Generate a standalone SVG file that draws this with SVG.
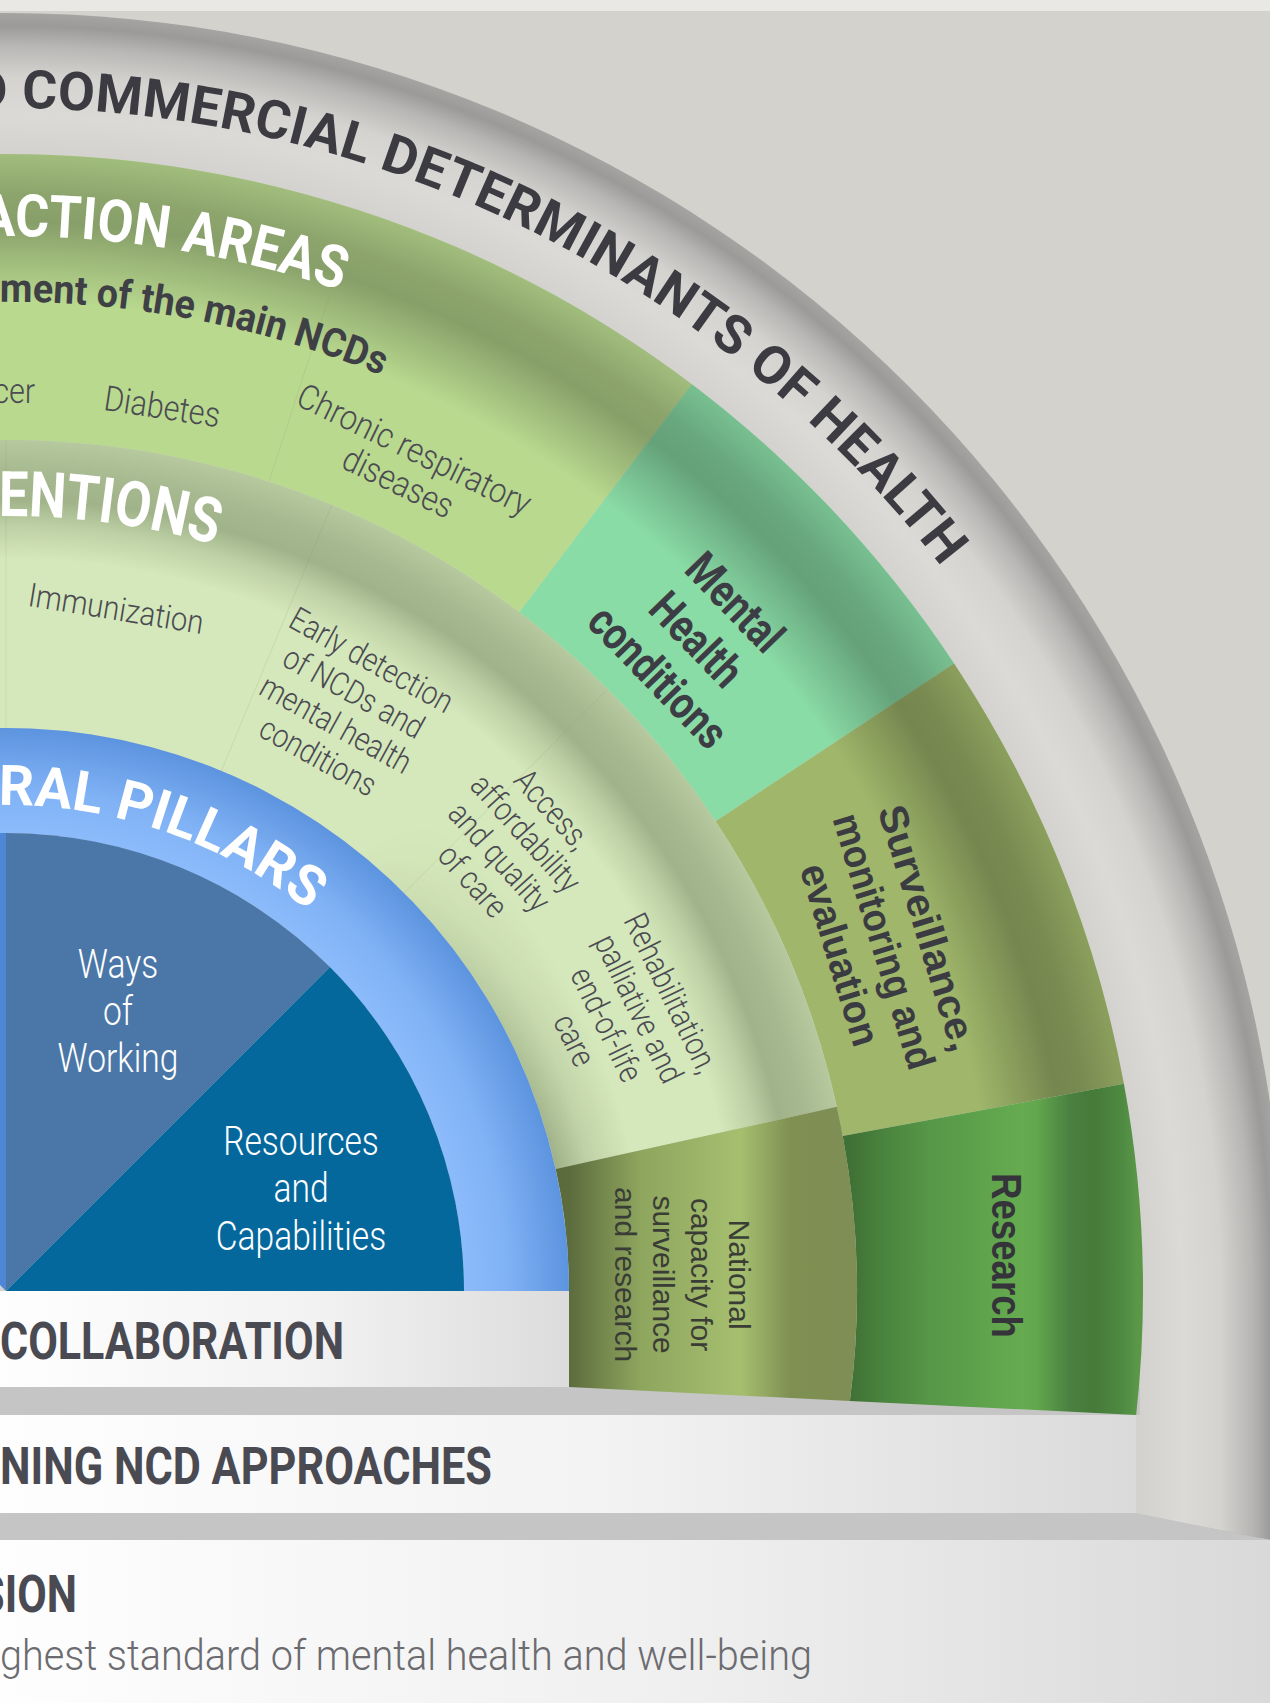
<svg xmlns="http://www.w3.org/2000/svg" width="1270" height="1703" viewBox="0 0 1270 1703">
<defs>
<style>
.hd{font-family:Roboto,"Liberation Sans",sans-serif;font-weight:700}
.lt{font-family:Roboto,"Liberation Sans",sans-serif;font-weight:300;fill:#4b4b52}
.ar{font-family:"Liberation Sans",Arial,sans-serif}
.dark{fill:#3b3b41}
.wh{fill:#ffffff}
.div{stroke-width:1;fill:none;stroke:#7f9262;stroke-opacity:0.16}
</style>
<radialGradient id="gRing" gradientUnits="userSpaceOnUse" cx="6" cy="1291" r="1278">
<stop offset="0.8897" stop-color="#d3d2ce"/>
<stop offset="0.92" stop-color="#dbdad7"/>
<stop offset="0.95" stop-color="#d4d3d0"/>
<stop offset="0.975" stop-color="#b8b6b4"/>
<stop offset="0.99" stop-color="#9c9a98"/>
<stop offset="1" stop-color="#a6a4a2"/>
</radialGradient>
<linearGradient id="gRingX" gradientUnits="userSpaceOnUse" x1="6" y1="0" x2="1284" y2="0">
<stop offset="0.8897" stop-color="#d3d2ce"/>
<stop offset="0.92" stop-color="#dbdad7"/>
<stop offset="0.95" stop-color="#d4d3d0"/>
<stop offset="0.975" stop-color="#b8b6b4"/>
<stop offset="0.99" stop-color="#9c9a98"/>
<stop offset="1" stop-color="#a6a4a2"/>
</linearGradient>
<radialGradient id="gActShade" gradientUnits="userSpaceOnUse" cx="6" cy="1291" r="1137">
<stop offset="0.748" stop-color="#000" stop-opacity="0"/>
<stop offset="0.87" stop-color="#000" stop-opacity="0"/>
<stop offset="0.915" stop-color="#000" stop-opacity="0.17"/>
<stop offset="0.94" stop-color="#000" stop-opacity="0.27"/>
<stop offset="0.965" stop-color="#000" stop-opacity="0.24"/>
<stop offset="1" stop-color="#000" stop-opacity="0.13"/>
</radialGradient>
<radialGradient id="gIntShade" gradientUnits="userSpaceOnUse" cx="6" cy="1291" r="851">
<stop offset="0.86" stop-color="#213010" stop-opacity="0"/>
<stop offset="0.90" stop-color="#213010" stop-opacity="0.13"/>
<stop offset="0.93" stop-color="#213010" stop-opacity="0.29"/>
<stop offset="0.96" stop-color="#213010" stop-opacity="0.26"/>
<stop offset="1" stop-color="#213010" stop-opacity="0.17"/>
</radialGradient>
<radialGradient id="gIntInner" gradientUnits="userSpaceOnUse" cx="6" cy="1291" r="640">
<stop offset="0.879" stop-color="#213010" stop-opacity="0.3"/>
<stop offset="0.93" stop-color="#213010" stop-opacity="0.12"/>
<stop offset="1" stop-color="#213010" stop-opacity="0"/>
</radialGradient>
<linearGradient id="gMaskLin" gradientUnits="userSpaceOnUse" x1="392" y1="831" x2="586" y2="1136">
<stop offset="0" stop-color="#000"/>
<stop offset="1" stop-color="#fff"/>
</linearGradient>
<mask id="mInner" maskUnits="userSpaceOnUse" x="-200" y="500" width="1000" height="800">
<rect x="-200" y="500" width="1000" height="800" fill="url(#gMaskLin)"/>
</mask>
<radialGradient id="gBlue" gradientUnits="userSpaceOnUse" cx="6" cy="1291" r="563">
<stop offset="0.8135" stop-color="#8cbbfb"/>
<stop offset="0.89" stop-color="#80b2f5"/>
<stop offset="1" stop-color="#5d94df"/>
</radialGradient>
<linearGradient id="gResearch" gradientUnits="userSpaceOnUse" x1="849" y1="0" x2="1137" y2="0">
<stop offset="0" stop-color="#3f7035"/>
<stop offset="0.118" stop-color="#4a833d"/>
<stop offset="0.27" stop-color="#559647"/>
<stop offset="0.434" stop-color="#5da14b"/>
<stop offset="0.6" stop-color="#66ab50"/>
<stop offset="0.653" stop-color="#62a64d"/>
<stop offset="0.767" stop-color="#4a8040"/>
<stop offset="0.85" stop-color="#467a3a"/>
<stop offset="0.95" stop-color="#4f8a42"/>
<stop offset="1" stop-color="#5a9848"/>
</linearGradient>
<linearGradient id="gNational" gradientUnits="userSpaceOnUse" x1="555" y1="0" x2="852" y2="0">
<stop offset="0" stop-color="#5a6a3b"/>
<stop offset="0.05" stop-color="#5c6c3d"/>
<stop offset="0.286" stop-color="#8ea55e"/>
<stop offset="0.623" stop-color="#a6bf6f"/>
<stop offset="0.791" stop-color="#7f9052"/>
<stop offset="1" stop-color="#7e8e55"/>
</linearGradient>
<linearGradient id="gCollab" gradientUnits="userSpaceOnUse" x1="0" y1="0" x2="569" y2="0">
<stop offset="0" stop-color="#fefefe"/>
<stop offset="0.55" stop-color="#f2f2f2"/>
<stop offset="1" stop-color="#dcdcdc"/>
</linearGradient>
<linearGradient id="gStrength" gradientUnits="userSpaceOnUse" x1="0" y1="0" x2="1136" y2="0">
<stop offset="0" stop-color="#fefefe"/>
<stop offset="0.55" stop-color="#f2f2f2"/>
<stop offset="1" stop-color="#dadada"/>
</linearGradient>
<linearGradient id="gVision" gradientUnits="userSpaceOnUse" x1="0" y1="0" x2="1270" y2="0">
<stop offset="0" stop-color="#fefefe"/>
<stop offset="0.55" stop-color="#efefef"/>
<stop offset="1" stop-color="#d9d9d9"/>
</linearGradient>
<path id="arc1183" d="M -199.43 125.97 A 1183 1183 0 0 1 1171.03 1496.43"/>
<path id="arc1055" d="M -177.20 252.03 A 1055 1055 0 0 1 1044.97 1474.20"/>
<path id="arc988" d="M -165.57 317.01 A 988 988 0 0 1 979.99 1462.57"/>
<path id="arc775" d="M -128.58 527.77 A 775 775 0 0 1 769.23 1425.58"/>
<path id="arc486" d="M -78.39 812.38 A 486 486 0 0 1 484.62 1375.39"/>
</defs>

<g id="background">
<rect x="0" y="0" width="1270" height="1703" fill="#d3d2cd"/>
<rect x="0" y="0" width="1270" height="11" fill="#e9e8e4"/>
</g>

<g id="ring-determinants">
<circle cx="6" cy="1291" r="1278" fill="url(#gRing)"/>
<polygon points="1100,1291 1290,1291 1290,1545 1270,1540 1136,1513 1100,1513" fill="url(#gRingX)"/>
<text class="hd dark" font-size="53.5" letter-spacing="0.35"><textPath href="#arc1183" startOffset="173.5">D COMMERCIAL DETERMINANTS OF HEALTH</textPath></text>
</g>

<g id="strip-1">
<rect x="0" y="1387" width="1140" height="28" fill="#c5c5c5"/>
</g>

<g id="action-areas">
<path id="seg-ncds" d="M -191.4 171.3 A 1137 1137 0 0 1 691.9 384.2 L 519.3 612.3 A 851 851 0 0 0 -141.8 452.9 Z" fill="#b9d98f"/>
<path id="seg-mental" d="M 691.9 384.2 A 1137 1137 0 0 1 954.1 663.4 L 715.6 821.3 A 851 851 0 0 0 519.3 612.3 Z" fill="#8adca6"/>
<path id="seg-surveillance" d="M 954.1 663.4 A 1137 1137 0 0 1 1123.9 1083.8 L 842.7 1135.9 A 851 851 0 0 0 715.6 821.3 Z" fill="#a0b76b"/>
<path d="M -191.4 171.3 A 1137 1137 0 0 1 1123.9 1083.8 L 842.7 1135.9 A 851 851 0 0 0 -141.8 452.9 Z" fill="url(#gActShade)"/>
<path id="seg-research" d="M 1123.9 1083.8 A 1137 1137 0 0 1 1136.2 1415 L 849.9 1401 A 851 851 0 0 0 842.7 1135.9 Z" fill="url(#gResearch)"/>
<line class="div" x1="269.0" y1="481.7" x2="330.0" y2="294.0"/>
<text class="hd wh" font-size="59"><textPath href="#arc1055" startOffset="158.4" textLength="366" lengthAdjust="spacingAndGlyphs">ACTION AREAS</textPath></text>
<text class="hd" fill="#3f3f46" font-size="40"><textPath href="#arc988" startOffset="166.4" textLength="391" lengthAdjust="spacingAndGlyphs">ment of the main NCDs</textPath></text>
<text class="lt" font-size="35" text-anchor="end" transform="translate(35,403) rotate(0.5) scale(0.87,1)">cer</text>
<text class="lt" font-size="35" text-anchor="middle" transform="translate(160.5,418.5) rotate(8.7) scale(0.87,1)">Diabetes</text>
<text class="lt" font-size="35" text-anchor="middle" transform="translate(405.8,467) rotate(26) scale(0.88,1)"><tspan x="0" y="-7.5">Chronic respiratory</tspan><tspan x="0" y="29">diseases</tspan></text>
<text class="hd" fill="#3d3d45" font-size="46" text-anchor="middle" transform="translate(697,639) rotate(46) scale(0.82,1)"><tspan x="0" y="-37">Mental</tspan><tspan x="0" y="16.5">Health</tspan><tspan x="0" y="70">conditions</tspan></text>
<text class="ar" font-weight="700" fill="#3b3b42" font-size="40" text-anchor="middle" transform="translate(883.3,941.5) rotate(73)"><tspan x="0" y="-33" textLength="255" lengthAdjust="spacingAndGlyphs">Surveillance,</tspan><tspan x="0" y="13" textLength="265" lengthAdjust="spacingAndGlyphs">monitoring and</tspan><tspan x="0" y="59" textLength="188" lengthAdjust="spacingAndGlyphs">evaluation</tspan></text>
<text class="ar" font-weight="700" fill="#34343a" font-size="42" text-anchor="middle" transform="translate(1007,1255.5) rotate(90)"><tspan x="0" y="15" textLength="165" lengthAdjust="spacingAndGlyphs">Research</tspan></text>
</g>

<g id="interventions">
<path id="seg-interventions" d="M -141.8 452.9 A 851 851 0 0 1 836.8 1106.8 L 555.7 1169.1 A 563 563 0 0 0 -91.8 736.6 Z" fill="#d5e8bb"/>
<path d="M -105.1 660.7 A 640 640 0 0 1 630.8 1152.5 L 555.7 1169.1 A 563 563 0 0 0 -91.8 736.6 Z" fill="url(#gIntInner)" mask="url(#mInner)"/>
<path d="M -141.8 452.9 A 851 851 0 0 1 836.8 1106.8 L 555.7 1169.1 A 563 563 0 0 0 -91.8 736.6 Z" fill="url(#gIntShade)"/>
<path id="seg-national" d="M 836.8 1106.8 A 851 851 0 0 1 849.9 1401 L 569 1387 L 569 1291 A 563 563 0 0 0 555.7 1169.1 Z" fill="url(#gNational)"/>
<line class="div" x1="6" y1="728" x2="6" y2="440"/>
<line class="div" x1="221.4" y1="770.9" x2="331.7" y2="504.8"/>
<line class="div" x1="404.1" y1="892.9" x2="607.7" y2="689.3"/>
<text class="hd wh" font-size="63"><textPath href="#arc775" startOffset="128.2" textLength="219" lengthAdjust="spacingAndGlyphs">ENTIONS</textPath></text>
<text class="lt" font-size="33" text-anchor="middle" transform="translate(116,609) rotate(9.2)"><tspan x="0" y="11" textLength="177" lengthAdjust="spacingAndGlyphs">Immunization</tspan></text>
<text class="lt" font-size="33" text-anchor="middle" transform="translate(344.5,709) rotate(29) scale(0.85,1)"><tspan x="0" y="-44.5">Early detection</tspan><tspan x="0" y="-7.8">of NCDs and</tspan><tspan x="0" y="28.8">mental health</tspan><tspan x="0" y="65.5">conditions</tspan></text>
<text class="lt" font-size="33" text-anchor="middle" transform="translate(512,845.5) rotate(48) scale(0.85,1)"><tspan x="0" y="-43">Access,</tspan><tspan x="0" y="-7.3">affordability</tspan><tspan x="0" y="28.3">and quality</tspan><tspan x="0" y="64">of care</tspan></text>
<text class="lt" font-size="33" text-anchor="middle" transform="translate(622,1017) rotate(64) scale(0.85,1)"><tspan x="0" y="-43.4">Rehabilitation,</tspan><tspan x="0" y="-7.5">palliative and</tspan><tspan x="0" y="28.4">end-of-life</tspan><tspan x="0" y="64.3">care</tspan></text>
<text class="ar" fill="#3a3d36" font-size="30" text-anchor="middle" transform="translate(681.75,1274.6) rotate(90)"><tspan x="0" y="-46.75">National</tspan><tspan x="0" y="-8.9">capacity for</tspan><tspan x="0" y="28.9">surveillance</tspan><tspan x="0" y="66.75">and research</tspan></text>
</g>

<g id="pillars">
<path id="ring-pillars" d="M -91.8 736.6 A 563 563 0 0 1 569 1291 L 464 1291 A 458 458 0 0 0 -73.5 840 Z" fill="url(#gBlue)"/>
<text class="hd wh" font-size="56"><textPath href="#arc486" startOffset="77.3" textLength="334" lengthAdjust="spacingAndGlyphs">RAL PILLARS</textPath></text>
</g>

<g id="pie">
<path d="M 6 1291 L -317.9 967.1 A 458 458 0 0 1 6 833 Z" fill="#4e87d5"/>
<path id="wedge-ways" d="M 6 1291 L 6 833 A 458 458 0 0 1 329.9 967.1 Z" fill="#4a77a7"/>
<path id="wedge-resources" d="M 6 1291 L 329.9 967.1 A 458 458 0 0 1 464 1291 Z" fill="#05689d"/>
<text class="lt" font-size="40" text-anchor="middle" transform="translate(118,0) scale(0.84,1)" style="fill:#ffffff"><tspan x="0" y="978">Ways</tspan><tspan x="0" y="1025">of</tspan><tspan x="0" y="1072">Working</tspan></text>
<text class="lt" font-size="40" text-anchor="middle" transform="translate(301,0) scale(0.84,1)" style="fill:#ffffff"><tspan x="0" y="1155">Resources</tspan><tspan x="0" y="1202">and</tspan><tspan x="0" y="1250">Capabilities</tspan></text>
</g>

<g id="collaboration">
<rect x="0" y="1291" width="569" height="96" fill="url(#gCollab)"/>
<text class="hd" fill="#4a4a52" font-size="51" x="0" y="1359" textLength="344" lengthAdjust="spacingAndGlyphs">COLLABORATION</text>
</g>

<g id="approaches">
<rect x="0" y="1415" width="1136" height="98" fill="url(#gStrength)"/>
<text class="hd" fill="#4a4a52" font-size="51" x="0" y="1484" textLength="492" lengthAdjust="spacingAndGlyphs">NING NCD APPROACHES</text>
</g>

<g id="strip-2">
<polygon points="0,1513 1136,1513 1270,1540 0,1540" fill="#c5c5c5"/>
</g>

<g id="vision">
<rect x="0" y="1540" width="1270" height="163" fill="url(#gVision)"/>
<text class="hd" fill="#4a4a52" font-size="51" text-anchor="end" transform="translate(77,1612) scale(0.84,1)">SION</text>
<text class="lt" style="fill:#6b6b70" font-size="42" x="0" y="1670" textLength="812" lengthAdjust="spacingAndGlyphs">ghest standard of mental health and well-being</text>
</g>

<g id="connectors"></g>
</svg>
